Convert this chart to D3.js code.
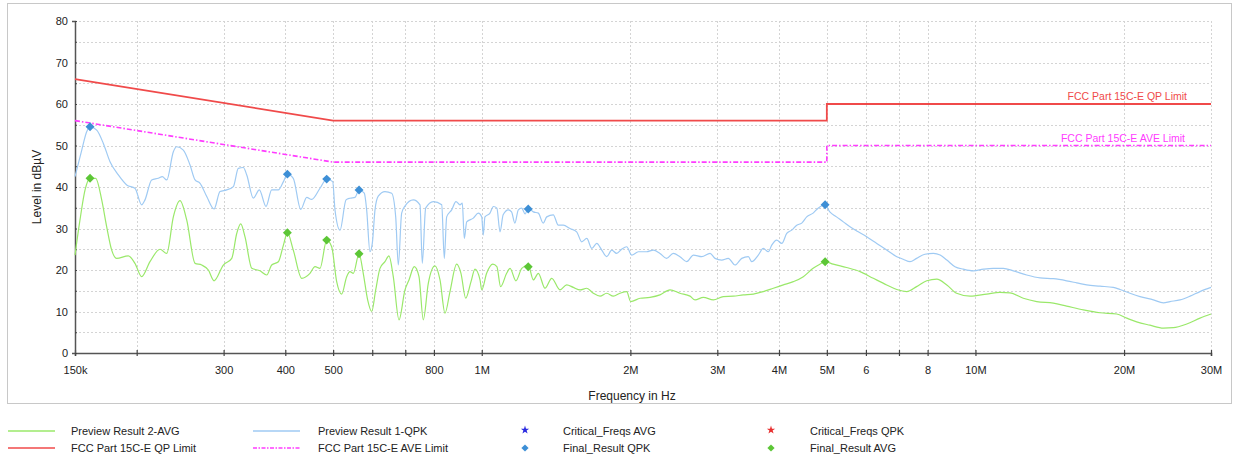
<!DOCTYPE html>
<html>
<head>
<meta charset="utf-8">
<script src="https://cdn.jsdelivr.net/npm/d3@7"></script>
<style>
body { margin: 0; background: #fff; }
svg { font-family: "Liberation Sans", Arial, sans-serif; }
</style>
</head>
<body>
<svg id="chart" width="1235" height="458"></svg>
<script>
// frequencies in MHz, levels in dBuV
var qpkFreq = [0.150,0.1548,0.1584,0.1609,0.1660,0.1712,0.1766,0.1836,0.1909,0.1984,0.2047,0.2079,0.2145,0.2212,0.2254,0.2301,0.2373,0.2410,0.2486,0.2565,0.2626,0.2688,0.2773,0.2869,0.2950,0.3044,0.3139,0.3213,0.3289,0.3342,0.3446,0.3544,0.3656,0.3754,0.3873,0.3965,0.4039,0.4152,0.4299,0.4421,0.4524,0.4703,0.4852,0.4990,0.5043,0.5163,0.5310,0.5409,0.5537,0.5642,0.5782,0.5846,0.5937,0.6002,0.6078,0.6171,0.6367,0.6570,0.6694,0.6776,0.6883,0.6990,0.7266,0.7497,0.7578,0.7698,0.7977,0.8296,0.8397,0.8491,0.8691,0.8867,0.9035,0.9133,0.9218,0.9322,0.9615,0.9841,1.000,1.007,1.015,1.039,1.056,1.073,1.089,1.105,1.132,1.149,1.167,1.186,1.205,1.224,1.242,1.272,1.302,1.332,1.354,1.396,1.429,1.463,1.509,1.557,1.594,1.632,1.671,1.710,1.750,1.791,1.833,1.876,1.920,1.966,2.013,2.076,2.158,2.226,2.296,2.368,2.443,2.520,2.601,2.683,2.790,2.900,2.968,3.062,3.158,3.258,3.362,3.467,3.523,3.632,3.718,3.806,3.867,3.958,4.052,4.147,4.245,4.345,4.448,4.552,4.69,4.80,4.96,5.07,5.23,5.40,5.57,5.79,6.02,6.31,6.61,6.93,7.14,7.37,7.60,7.90,8.22,8.48,8.75,9.09,9.45,9.90,10.38,10.86,11.39,11.93,12.70,13.52,14.38,15.30,16.04,16.80,17.88,19.02,19.62,20.56,21.54,22.93,24.03,24.78,25.96,27.21,28.50,30.0];
var qpkLevel = [42.5,48.9,53.3,54.5,53.7,50.5,46.1,42.9,40.5,39.7,35.7,36.9,41.7,42.1,42.5,41.7,48.5,49.7,48.9,45.3,41.7,40.9,37.7,34.7,38.9,39.3,40.1,44.5,44.7,42.9,37.3,39.3,35.3,39.3,39.3,41.3,43.1,42.1,34.6,37.5,37.0,39.7,41.9,41.3,34.5,29.6,36.9,37.3,37.5,39.3,38.5,34.5,24.4,26.4,34.5,37.8,38.9,38.5,32.8,21.2,33.7,35.4,36.9,35.7,21.6,34.9,36.5,35.7,22.8,32.8,34.5,36.5,35.7,36.1,27.6,31.6,32.5,33.7,32.8,28.4,32.8,33.7,35.3,34.9,29.2,33.3,34.5,34.0,31.3,34.5,34.9,33.5,34.9,34.0,33.7,31.3,32.8,33.3,30.8,30.8,30.0,29.2,26.8,27.6,25.2,26.4,24.8,23.2,24.8,24.0,25.0,25.6,23.6,24.4,24.4,24.8,24.0,22.8,24.0,23.2,22.0,23.6,23.2,24.0,22.8,22.4,22.8,21.2,22.8,23.2,22.0,23.6,25.2,24.4,26.0,27.2,26.4,28.8,29.6,30.8,31.3,32.8,33.7,34.9,35.7,34.0,32.8,31.6,30.4,29.2,28.0,26.4,24.8,23.2,22.6,22.0,22.8,23.8,24.0,23.6,22.4,20.8,20.2,19.8,20.2,20.4,20.4,19.8,18.8,18.1,17.9,17.4,16.9,16.4,16.1,15.8,15.3,14.4,13.6,12.8,12.1,12.4,12.8,13.7,14.8,15.8];

var avgFreq = [0.150,0.1535,0.1572,0.1609,0.1652,0.1699,0.1739,0.1780,0.1822,0.1923,0.1984,0.2047,0.2128,0.2230,0.2301,0.2373,0.2448,0.2526,0.2626,0.2709,0.2794,0.2869,0.2996,0.3116,0.3189,0.3249,0.3315,0.3421,0.3555,0.3668,0.3754,0.3873,0.3965,0.4039,0.4152,0.4319,0.4488,0.4595,0.4703,0.4852,0.4966,0.5083,0.5203,0.5326,0.5409,0.5493,0.5642,0.5754,0.5873,0.5985,0.6098,0.6221,0.6367,0.6487,0.6619,0.6798,0.6990,0.7122,0.7300,0.7462,0.7614,0.7793,0.8040,0.8231,0.8424,0.8623,0.8895,0.9076,0.9279,0.9511,0.9690,0.9919,1.000,1.023,1.053,1.073,1.092,1.123,1.141,1.173,1.205,1.242,1.272,1.302,1.343,1.386,1.440,1.486,1.533,1.582,1.632,1.683,1.736,1.791,1.847,1.905,1.966,2.003,2.093,2.192,2.296,2.406,2.520,2.642,2.704,2.811,2.945,3.085,3.233,3.387,3.549,3.718,3.896,4.082,4.277,4.481,4.69,4.84,4.96,5.15,5.48,5.84,6.21,6.61,6.93,7.26,7.60,7.97,8.35,8.75,9.16,9.75,10.54,11.21,11.74,12.50,13.31,14.38,15.30,16.54,17.88,19.32,20.25,21.21,22.57,24.03,25.17,26.79,28.50,30.0];
var avgLevel = [23.6,32.0,39.3,42.1,42.1,36.9,30.4,24.8,22.8,23.4,21.6,18.4,22.0,25.0,24.0,32.8,36.7,32.0,21.6,21.2,20.0,17.4,21.2,22.8,28.8,31.1,28.0,20.4,19.8,18.8,21.2,22.0,26.0,29.0,24.8,18.0,19.2,20.8,20.4,27.2,25.6,17.2,14.2,18.4,19.6,19.2,23.9,19.2,12.8,10.0,15.2,20.4,22.0,23.4,18.4,8.0,15.2,17.6,20.8,18.4,8.0,16.8,21.0,17.6,9.6,14.8,21.4,19.2,13.2,17.2,20.2,17.6,15.2,19.2,21.4,20.8,16.0,19.2,20.4,17.4,20.4,21.2,17.6,19.2,15.6,18.0,15.2,16.4,15.8,15.2,15.6,14.4,13.7,14.4,13.7,14.4,14.8,12.4,13.2,13.4,14.0,15.2,14.4,13.7,12.8,13.4,12.8,13.6,13.7,14.0,14.2,14.8,15.6,16.4,17.2,18.4,20.4,21.4,22.0,21.4,20.6,19.6,18.0,16.4,15.3,14.8,16.0,17.4,17.8,16.4,14.4,13.7,14.2,14.6,14.5,13.2,12.4,12.0,11.3,10.4,9.7,9.4,8.4,7.5,6.7,6.0,6.1,7.0,8.4,9.4];

var qpLimitFreq = [0.15, 0.5, 5, 5, 30];
var qpLimitLevel = [66, 56, 56, 60, 60];
var aveLimitFreq = [0.15, 0.5, 5, 5, 30];
var aveLimitLevel = [56, 46, 46, 50, 50];

var finalQpkFreq = [0.1609, 0.4039, 0.4852, 0.5642, 1.242, 4.96];
var finalQpkLevel = [54.5, 43.1, 41.9, 39.3, 34.7, 35.7];
var finalAvgFreq = [0.1609, 0.4039, 0.4852, 0.5642, 1.242, 4.96];
var finalAvgLevel = [42.1, 29.0, 27.2, 23.9, 20.8, 22.0];

var xTicks = [0.15,0.2,0.3,0.4,0.5,0.6,0.7,0.8,1,2,3,4,5,6,7,8,10,20,30];
var xTickLabels = {0.15:"150k",0.3:"300",0.4:"400",0.5:"500",0.8:"800",1:"1M",2:"2M",3:"3M",4:"4M",5:"5M",6:"6",8:"8",10:"10M",20:"20M",30:"30M"};
var yTicks = [0,5,10,15,20,25,30,35,40,45,50,55,60,65,70,75,80];

var colQpk = "#9fcaf3", colAvg = "#9ae86a", colQp = "#f04a4a", colAve = "#ff3cff";
var colQpkMark = "#3d8fd6", colAvgMark = "#5cc636";

var svg = d3.select("#chart");
var x = d3.scaleLog().domain([0.15, 30]).range([75, 1211]);
var y = d3.scaleLinear().domain([0, 80]).range([353, 21]);

// outer frame
svg.append("rect").attr("x", 7.5).attr("y", 3.5).attr("width", 1224).attr("height", 400)
    .attr("fill", "none").attr("stroke", "#c8c8c8");

// grid
svg.append("g").selectAll("line").data(yTicks.filter(function(d){ return d > 0; })).enter().append("line")
    .attr("x1", 75).attr("x2", 1211)
    .attr("y1", function(d){ return Math.round(y(d)) + 0.5; })
    .attr("y2", function(d){ return Math.round(y(d)) + 0.5; })
    .attr("stroke", "#d4d4d4").attr("stroke-dasharray", "2,2");
svg.append("g").selectAll("line").data(xTicks.filter(function(d){ return d > 0.15; })).enter().append("line")
    .attr("y1", 21).attr("y2", 353)
    .attr("x1", function(d){ return Math.round(x(d)) + 0.5; })
    .attr("x2", function(d){ return Math.round(x(d)) + 0.5; })
    .attr("stroke", "#d4d4d4").attr("stroke-dasharray", "2,2");

// axes
var xAxis = d3.axisBottom(x).tickValues(xTicks).tickSize(3)
    .tickFormat(function(d){ return xTickLabels[d] || ""; });
var gx = svg.append("g").attr("transform", "translate(0,353)").call(xAxis);
var yAxis = d3.axisLeft(y).tickValues(yTicks).tickSize(3)
    .tickFormat(function(d){ return d % 10 == 0 ? d : ""; });
var gy = svg.append("g").attr("transform", "translate(75,0)").call(yAxis);
[gx, gy].forEach(function(g){
    g.select(".domain").attr("stroke", "#555").attr("stroke-width", 1.5);
    g.selectAll(".tick line").attr("stroke", "#444").attr("stroke-width", 1.2);
    g.selectAll(".tick text").attr("fill", "#222").attr("font-size", 11)
        .attr("font-family", "Liberation Sans, Arial, sans-serif");
});
gx.selectAll(".tick line").attr("y1", -3);
gx.selectAll(".tick text").attr("dy", "1.4em");
gy.selectAll(".tick line").attr("x2", 2);
gy.selectAll(".tick text").attr("x", -7);

svg.append("text").attr("x", 632).attr("y", 400).attr("text-anchor", "middle")
    .attr("font-size", 12).attr("fill", "#222").text("Frequency in Hz");
svg.append("text").attr("transform", "translate(41,187) rotate(-90)").attr("text-anchor", "middle")
    .attr("font-size", 12).attr("fill", "#222").text("Level in dBµV");

function series(fs, ls){
    return fs.map(function(f, i){ return [f, ls[i]]; });
}
var line = d3.line().x(function(d){ return x(d[0]); }).y(function(d){ return y(d[1]); });
var curve = d3.line().x(function(d){ return x(d[0]); }).y(function(d){ return y(d[1]); }).curve(d3.curveMonotoneX);

var plot = svg.append("g");
plot.append("path").datum(series(qpkFreq, qpkLevel)).attr("d", curve)
    .attr("fill", "none").attr("stroke", colQpk).attr("stroke-width", 1.2);
plot.append("path").datum(series(avgFreq, avgLevel)).attr("d", curve)
    .attr("fill", "none").attr("stroke", colAvg).attr("stroke-width", 1.2);
plot.append("path").datum(series(qpLimitFreq, qpLimitLevel)).attr("d", line)
    .attr("fill", "none").attr("stroke", colQp).attr("stroke-width", 1.8);
plot.append("path").datum(series(aveLimitFreq, aveLimitLevel)).attr("d", line)
    .attr("fill", "none").attr("stroke", colAve).attr("stroke-width", 1.6)
    .attr("stroke-dasharray", "5,2,1.5,2");

svg.append("text").attr("x", 1187).attr("y", y(60) - 4).attr("text-anchor", "end")
    .attr("font-size", 10.5).attr("fill", colQp).text("FCC Part 15C-E QP Limit");
svg.append("text").attr("x", 1185).attr("y", y(50) - 4).attr("text-anchor", "end")
    .attr("font-size", 10.5).attr("fill", colAve).text("FCC Part 15C-E AVE Limit");

// diamonds drawn as squares turned 45 degrees
var diamond = d3.symbol().type(d3.symbolSquare).size(40);
plot.selectAll(".mq").data(series(finalQpkFreq, finalQpkLevel)).enter().append("path")
    .attr("d", diamond).attr("fill", colQpkMark)
    .attr("transform", function(d){ return "translate(" + x(d[0]) + "," + y(d[1]) + ") rotate(45)"; });
plot.selectAll(".ma").data(series(finalAvgFreq, finalAvgLevel)).enter().append("path")
    .attr("d", diamond).attr("fill", colAvgMark)
    .attr("transform", function(d){ return "translate(" + x(d[0]) + "," + y(d[1]) + ") rotate(45)"; });

// legend
var legendItems = [
    {label: "Preview Result 2-AVG", kind: "line", color: colAvg, col: 0, row: 0},
    {label: "FCC Part 15C-E QP Limit", kind: "line", color: colQp, col: 0, row: 1},
    {label: "Preview Result 1-QPK", kind: "line", color: colQpk, col: 1, row: 0},
    {label: "FCC Part 15C-E AVE Limit", kind: "dash", color: colAve, col: 1, row: 1},
    {label: "Critical_Freqs AVG", kind: "star", color: "#2a2ae0", col: 2, row: 0},
    {label: "Final_Result QPK", kind: "diamond", color: colQpkMark, col: 2, row: 1},
    {label: "Critical_Freqs QPK", kind: "star", color: "#e83030", col: 3, row: 0},
    {label: "Final_Result AVG", kind: "diamond", color: colAvgMark, col: 3, row: 1}
];
var colX = [8, 253, 525, 771], textX = [71, 318, 563, 810], rowY = [431, 448];
var leg = svg.append("g").selectAll("g").data(legendItems).enter().append("g");
leg.each(function(d){
    var g = d3.select(this), yy = rowY[d.row];
    if (d.kind == "line" || d.kind == "dash") {
        g.append("line").attr("x1", colX[d.col]).attr("x2", colX[d.col] + 47)
            .attr("y1", yy).attr("y2", yy).attr("stroke", d.color)
            .attr("stroke-width", d.kind == "dash" ? 1.3 : 1.6)
            .attr("stroke-dasharray", d.kind == "dash" ? "4,1.5,1.5,1.5" : null);
    } else if (d.kind == "diamond") {
        g.append("path").attr("d", d3.symbol().type(d3.symbolSquare).size(26))
            .attr("fill", d.color).attr("transform", "translate(" + colX[d.col] + "," + yy + ") rotate(45)");
    } else {
        g.append("path").attr("d", d3.symbol().type(d3.symbolStar).size(22))
            .attr("fill", d.color).attr("transform", "translate(" + colX[d.col] + "," + (yy - 1) + ")");
    }
    g.append("text").attr("x", textX[d.col]).attr("y", yy + 4).attr("font-size", 11)
        .attr("fill", "#222").text(d.label);
});
</script>
</body>
</html>
